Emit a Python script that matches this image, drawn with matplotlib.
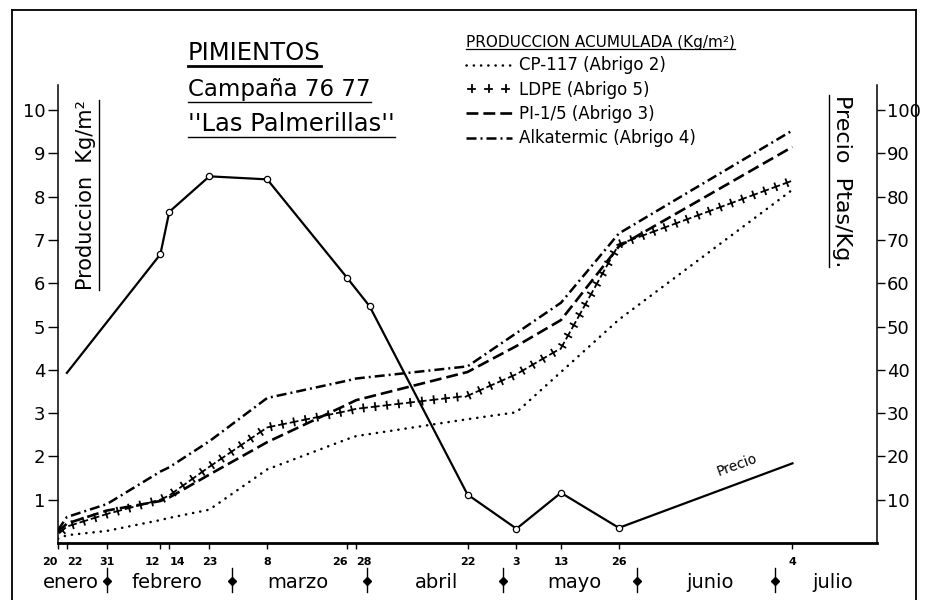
import matplotlib
matplotlib.use("Agg")
import matplotlib.pyplot as plt
import matplotlib.patheffects as pe
from matplotlib.lines import Line2D

# ---------------- data (x = day of year 1977) ----------------
harvest_days = [20, 22, 31, 43, 45, 54, 67, 85, 87, 112, 123, 133, 146, 185]
harvest_labels = ["20", "22", "31", "12", "14", "23", "8", "26", "28",
                  "22", "3", "13", "26", "4"]

cp117 = [0.10, 0.18, 0.28, 0.53, 0.58, 0.77, 1.70, 2.40, 2.47, 2.86, 3.02, 3.95, 5.16, 8.16]
ldpe = [0.20, 0.38, 0.67, 1.00, 1.10, 1.76, 2.67, 3.05, 3.10, 3.40, 3.90, 4.50, 6.90, 8.37]
pi15 = [0.25, 0.45, 0.75, 0.97, 1.05, 1.58, 2.33, 3.20, 3.30, 3.95, 4.55, 5.15, 6.85, 9.15]
alkatermic = [0.30, 0.60, 0.90, 1.65, 1.75, 2.35, 3.35, 3.75, 3.80, 4.08, 4.85, 5.55, 7.15, 9.53]

price_days = [22, 43, 45, 54, 67, 85, 90, 112, 123, 133, 146, 185]
price = [39.3, 66.7, 76.5, 84.7, 84.0, 61.2, 54.7, 11.2, 3.3, 11.6, 3.5, 18.4]

month_names = ["enero", "febrero", "marzo", "abril", "mayo", "junio", "julio"]
month_label_days = [23, 44.5, 74, 105, 136, 166.5, 194]
month_sep_days = [31, 59, 89.5, 120, 150, 181]

series_labels = ["CP-117 (Abrigo 2)", "LDPE (Abrigo 5)",
                 "PI-1/5 (Abrigo 3)", "Alkatermic (Abrigo 4)"]

left_ticks = [1, 2, 3, 4, 5, 6, 7, 8, 9, 10]
right_ticks = [10, 20, 30, 40, 50, 60, 70, 80, 90, 100]

# ---------------- figure ----------------
W, H = 926, 600
plt.rcParams['font.family'] = ['DejaVu Sans']
fig = plt.figure(figsize=(W / 100, H / 100), dpi=100)
ax = fig.add_axes([58 / W, 57 / H, 819 / W, 458 / H])
ax2 = ax.twinx()

ax.set_xlim(20, 204)
ax.set_ylim(0, 10.58)
ax2.set_ylim(0, 105.8)

k = 'black'
# production lines
ax.plot(harvest_days, cp117, color=k, lw=1.8, linestyle=(0, (0.1, 2.8)),
        dash_capstyle='round', label=series_labels[0])
plus_fx = [pe.TickedStroke(spacing=8.5, angle=a, length=0.30, linewidth=1.3)
           for a in (90, -90, 0, 180)]
ax.plot(harvest_days, ldpe, color=k, lw=1.3, path_effects=plus_fx,
        label=series_labels[1])
ax.plot(harvest_days, pi15, color=k, lw=1.9, linestyle=(0, (4.5, 1.9)),
        label=series_labels[2])
ax.plot(harvest_days, alkatermic, color=k, lw=1.8,
        linestyle=(0, (4.0, 1.6, 0.8, 1.6)), label=series_labels[3])

# price line
ax2.plot(price_days, price, color=k, lw=1.6, marker='o', ms=4.5,
         mfc='white', mec=k, mew=0.9, markevery=list(range(1, len(price) - 1)))
ax2.text(172.5, 18.0, "Precio", rotation=20, ha='center', va='center',
         fontsize=10, color=k)

# spines
for s in ('top', 'right'):
    ax.spines[s].set_visible(False)
for s in ('top', 'left', 'bottom'):
    ax2.spines[s].set_visible(False)
ax.spines['left'].set_linewidth(1.1)
ax.spines['bottom'].set_linewidth(2.0)
ax2.spines['right'].set_linewidth(1.1)

# ticks
ax.set_yticks(left_ticks)
ax.set_yticklabels([str(t) for t in left_ticks])
ax.tick_params(axis='y', direction='out', length=7, width=1, labelsize=13, pad=2)
ax2.set_yticks(right_ticks)
ax2.set_yticklabels([str(t) for t in right_ticks])
ax2.tick_params(axis='y', direction='out', length=6, width=1, labelsize=13, pad=1)
ax.set_xticks(harvest_days)
ax.set_xticklabels(harvest_labels, fontsize=8, fontweight='bold',
                   family=['Liberation Sans Narrow', 'DejaVu Sans'])
ax.tick_params(axis='x', direction='out', length=4, width=1, pad=6)
xlabels = ax.get_xticklabels()
for i in (0, 3, 7):
    xlabels[i].set_horizontalalignment('right')
for i in (1, 4, 8):
    xlabels[i].set_horizontalalignment('left')

# months
xt = ax.get_xaxis_transform()
for name, d in zip(month_names, month_label_days):
    ax.text(d, -0.087, name, transform=xt, ha='center', va='center',
            fontsize=14, color=k)
for d in month_sep_days:
    ax.plot([d, d], [-0.054, -0.107], transform=xt, clip_on=False, color=k, lw=1)
    ax.plot([d], [-0.083], transform=xt, clip_on=False, marker='D', ms=4,
            color=k)

# legend
leg = ax.legend(loc='upper left', bbox_to_anchor=(466 / W, 1 - 35 / H),
                bbox_transform=fig.transFigure, frameon=False, fontsize=12,
                title="PRODUCCION ACUMULADA (Kg/m²)", title_fontsize=11,
                alignment='left', handlelength=2.75, handletextpad=0.45,
                labelspacing=0.38, borderpad=0, borderaxespad=0)

# titles
t1 = fig.text(188 / W, 1 - 60 / H, "PIMIENTOS", fontsize=17.5, ha='left', va='baseline')
t2 = fig.text(188 / W, 1 - 96 / H, "Campaña 76 77", fontsize=16.5, ha='left', va='baseline')
t3 = fig.text(188 / W, 1 - 131 / H, "''Las Palmerillas''", fontsize=17.5, ha='left',
              va='baseline')

yl = fig.text(86 / W, 1 - 195 / H, "Produccion  Kg/m²", rotation=90, fontsize=15,
              ha='center', va='center')
yr = fig.text(842 / W, 1 - 181 / H, "Precio  Ptas/Kg.", rotation=270, fontsize=16,
              ha='center', va='center')

# outer frame
fig.add_artist(Line2D([12 / W, 12 / W], [0, 1 - 10 / H], color=k, lw=1.3))
fig.add_artist(Line2D([12 / W, 916 / W], [1 - 10 / H, 1 - 10 / H], color=k, lw=1.3))
fig.add_artist(Line2D([916 / W, 916 / W], [1 - 10 / H, 0], color=k, lw=1.3))

# underlines computed from the text extents
fig.canvas.draw()
r = fig.canvas.get_renderer()


def underline_h(t, gap=4, lw=1.0):
    bb = t.get_window_extent(r)
    y = (bb.y0 + 1 - gap) / H
    fig.add_artist(Line2D([bb.x0 / W, bb.x1 / W], [y, y], color=k, lw=lw))


underline_h(t1, gap=2, lw=2.0)
underline_h(t2, gap=2)
underline_h(t3, gap=2)
underline_h(leg.get_title(), gap=0, lw=0.9)
bb = yl.get_window_extent(r)
fig.add_artist(Line2D([(bb.x1 + 3) / W] * 2, [bb.y0 / H, bb.y1 / H], color=k, lw=1.0))
bb = yr.get_window_extent(r)
fig.add_artist(Line2D([(bb.x0 - 3) / W] * 2, [bb.y0 / H, bb.y1 / H], color=k, lw=1.0))

fig.savefig("out.png", dpi=100)
